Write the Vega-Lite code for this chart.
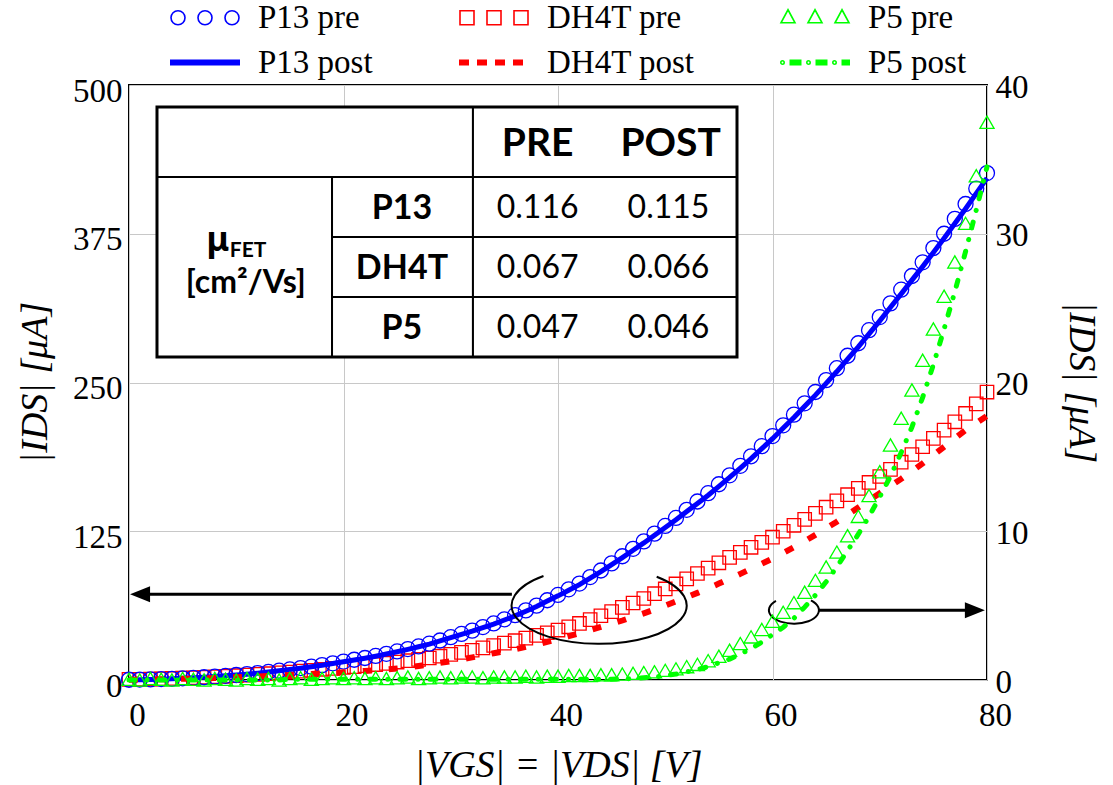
{
  "$schema": "https://vega.github.io/schema/vega-lite/v6.json",
  "width": 858,
  "height": 595,
  "autosize": "none",
  "padding": {"left": 129, "top": 85, "right": 126, "bottom": 105},
  "background": "white",
  "config": {
    "font": "Liberation Serif",
    "view": {"stroke": "#000000", "strokeWidth": 2},
    "style": {
      "guide-label": {"font": "Liberation Serif", "fontSize": 33, "fill": "#000000"},
      "guide-title": {"font": "Liberation Serif", "fontSize": 38, "fontWeight": "normal", "fill": "#000000"}
    },
    "axis": {
      "labelFont": "Liberation Serif", "labelFontSize": 33, "labelColor": "#000000",
      "titleFont": "Liberation Serif", "titleFontSize": 38, "titleFontWeight": "normal", "titleFontStyle": "italic", "titleColor": "#000000",
      "ticks": false, "domain": false, "gridColor": "#c8c8c8", "gridWidth": 1,
      "labelFlush": false, "labelOverlap": false
    }
  },
  "datasets": {
    "curves": [
      {"series":"P13 pre","V":0,"I":0.2},{"series":"P13 pre","V":1,"I":0.35},{"series":"P13 pre","V":2,"I":0.5},{"series":"P13 pre","V":3,"I":0.75},{"series":"P13 pre","V":4,"I":1.0},{"series":"P13 pre","V":5,"I":1.4},{"series":"P13 pre","V":6,"I":1.8},{"series":"P13 pre","V":7,"I":2.3},{"series":"P13 pre","V":8,"I":2.9},{"series":"P13 pre","V":9,"I":3.5},
      {"series":"P13 pre","V":10,"I":4.2},{"series":"P13 pre","V":11,"I":5.0},{"series":"P13 pre","V":12,"I":5.8},{"series":"P13 pre","V":13,"I":6.8},{"series":"P13 pre","V":14,"I":7.8},{"series":"P13 pre","V":15,"I":8.9},{"series":"P13 pre","V":16,"I":10.0},{"series":"P13 pre","V":17,"I":11.2},{"series":"P13 pre","V":18,"I":12.5},{"series":"P13 pre","V":19,"I":14.0},
      {"series":"P13 pre","V":20,"I":15.5},{"series":"P13 pre","V":21,"I":17.0},{"series":"P13 pre","V":22,"I":18.5},{"series":"P13 pre","V":23,"I":20.2},{"series":"P13 pre","V":24,"I":22.0},{"series":"P13 pre","V":25,"I":24.0},{"series":"P13 pre","V":26,"I":26.0},{"series":"P13 pre","V":27,"I":28.2},{"series":"P13 pre","V":28,"I":30.5},{"series":"P13 pre","V":29,"I":33.2},
      {"series":"P13 pre","V":30,"I":36.0},{"series":"P13 pre","V":31,"I":38.7},{"series":"P13 pre","V":32,"I":41.5},{"series":"P13 pre","V":33,"I":44.5},{"series":"P13 pre","V":34,"I":47.5},{"series":"P13 pre","V":35,"I":51.0},{"series":"P13 pre","V":36,"I":54.5},{"series":"P13 pre","V":37,"I":58.5},{"series":"P13 pre","V":38,"I":62.5},{"series":"P13 pre","V":39,"I":67.0},
      {"series":"P13 pre","V":40,"I":71.5},{"series":"P13 pre","V":41,"I":76.2},{"series":"P13 pre","V":42,"I":81.0},{"series":"P13 pre","V":43,"I":86.5},{"series":"P13 pre","V":44,"I":92.0},{"series":"P13 pre","V":45,"I":98.0},{"series":"P13 pre","V":46,"I":104.0},{"series":"P13 pre","V":47,"I":110.2},{"series":"P13 pre","V":48,"I":116.5},{"series":"P13 pre","V":49,"I":123.0},
      {"series":"P13 pre","V":50,"I":129.5},{"series":"P13 pre","V":51,"I":136.2},{"series":"P13 pre","V":52,"I":143.0},{"series":"P13 pre","V":53,"I":150.0},{"series":"P13 pre","V":54,"I":157.0},{"series":"P13 pre","V":55,"I":164.5},{"series":"P13 pre","V":56,"I":172.0},{"series":"P13 pre","V":57,"I":180.0},{"series":"P13 pre","V":58,"I":188.0},{"series":"P13 pre","V":59,"I":196.5},
      {"series":"P13 pre","V":60,"I":205.0},{"series":"P13 pre","V":61,"I":214.0},{"series":"P13 pre","V":62,"I":223.0},{"series":"P13 pre","V":63,"I":232.5},{"series":"P13 pre","V":64,"I":242.0},{"series":"P13 pre","V":65,"I":252.0},{"series":"P13 pre","V":66,"I":262.0},{"series":"P13 pre","V":67,"I":272.5},{"series":"P13 pre","V":68,"I":283.0},{"series":"P13 pre","V":69,"I":294.0},
      {"series":"P13 pre","V":70,"I":305.0},{"series":"P13 pre","V":71,"I":316.5},{"series":"P13 pre","V":72,"I":328.0},{"series":"P13 pre","V":73,"I":339.5},{"series":"P13 pre","V":74,"I":351.0},{"series":"P13 pre","V":75,"I":363.0},{"series":"P13 pre","V":76,"I":375.0},{"series":"P13 pre","V":77,"I":387.5},{"series":"P13 pre","V":78,"I":400.0},{"series":"P13 pre","V":79,"I":413.0},
      {"series":"P13 pre","V":80,"I":426.0},

      {"series":"P13 post","V":0,"I":0.2},{"series":"P13 post","V":1,"I":0.3},{"series":"P13 post","V":2,"I":0.5},{"series":"P13 post","V":3,"I":0.7},{"series":"P13 post","V":4,"I":1.0},{"series":"P13 post","V":5,"I":1.4},{"series":"P13 post","V":6,"I":1.8},{"series":"P13 post","V":7,"I":2.3},{"series":"P13 post","V":8,"I":2.9},{"series":"P13 post","V":9,"I":3.5},
      {"series":"P13 post","V":10,"I":4.2},{"series":"P13 post","V":11,"I":4.9},{"series":"P13 post","V":12,"I":5.7},{"series":"P13 post","V":13,"I":6.7},{"series":"P13 post","V":14,"I":7.7},{"series":"P13 post","V":15,"I":8.8},{"series":"P13 post","V":16,"I":9.9},{"series":"P13 post","V":17,"I":11.1},{"series":"P13 post","V":18,"I":12.4},{"series":"P13 post","V":19,"I":13.8},
      {"series":"P13 post","V":20,"I":15.3},{"series":"P13 post","V":21,"I":16.8},{"series":"P13 post","V":22,"I":18.3},{"series":"P13 post","V":23,"I":20.0},{"series":"P13 post","V":24,"I":21.8},{"series":"P13 post","V":25,"I":23.7},{"series":"P13 post","V":26,"I":25.7},{"series":"P13 post","V":27,"I":27.9},{"series":"P13 post","V":28,"I":30.2},{"series":"P13 post","V":29,"I":32.8},
      {"series":"P13 post","V":30,"I":35.6},{"series":"P13 post","V":31,"I":38.3},{"series":"P13 post","V":32,"I":41.0},{"series":"P13 post","V":33,"I":44.0},{"series":"P13 post","V":34,"I":47.0},{"series":"P13 post","V":35,"I":50.4},{"series":"P13 post","V":36,"I":53.9},{"series":"P13 post","V":37,"I":57.8},{"series":"P13 post","V":38,"I":61.8},{"series":"P13 post","V":39,"I":66.3},
      {"series":"P13 post","V":40,"I":70.7},{"series":"P13 post","V":41,"I":75.4},{"series":"P13 post","V":42,"I":80.1},{"series":"P13 post","V":43,"I":85.6},{"series":"P13 post","V":44,"I":91.0},{"series":"P13 post","V":45,"I":96.9},{"series":"P13 post","V":46,"I":102.9},{"series":"P13 post","V":47,"I":109.0},{"series":"P13 post","V":48,"I":115.2},{"series":"P13 post","V":49,"I":121.7},
      {"series":"P13 post","V":50,"I":128.1},{"series":"P13 post","V":51,"I":134.7},{"series":"P13 post","V":52,"I":141.5},{"series":"P13 post","V":53,"I":148.4},{"series":"P13 post","V":54,"I":155.3},{"series":"P13 post","V":55,"I":162.7},{"series":"P13 post","V":56,"I":170.2},{"series":"P13 post","V":57,"I":178.1},{"series":"P13 post","V":58,"I":186.0},{"series":"P13 post","V":59,"I":194.4},
      {"series":"P13 post","V":60,"I":202.8},{"series":"P13 post","V":61,"I":211.7},{"series":"P13 post","V":62,"I":220.6},{"series":"P13 post","V":63,"I":230.0},{"series":"P13 post","V":64,"I":239.4},{"series":"P13 post","V":65,"I":249.3},{"series":"P13 post","V":66,"I":259.2},{"series":"P13 post","V":67,"I":269.6},{"series":"P13 post","V":68,"I":280.0},{"series":"P13 post","V":69,"I":290.9},
      {"series":"P13 post","V":70,"I":301.8},{"series":"P13 post","V":71,"I":313.2},{"series":"P13 post","V":72,"I":324.5},{"series":"P13 post","V":73,"I":336.0},{"series":"P13 post","V":74,"I":347.4},{"series":"P13 post","V":75,"I":359.3},{"series":"P13 post","V":76,"I":371.2},{"series":"P13 post","V":77,"I":383.6},{"series":"P13 post","V":78,"I":396.0},{"series":"P13 post","V":79,"I":408.9},
      {"series":"P13 post","V":80,"I":421.7},

      {"series":"DH4T pre","V":0,"I":0.5},{"series":"DH4T pre","V":1,"I":0.6},{"series":"DH4T pre","V":2,"I":0.8},{"series":"DH4T pre","V":3,"I":1.0},{"series":"DH4T pre","V":4,"I":1.3},{"series":"DH4T pre","V":5,"I":1.6},{"series":"DH4T pre","V":6,"I":1.9},{"series":"DH4T pre","V":7,"I":2.3},{"series":"DH4T pre","V":8,"I":2.7},{"series":"DH4T pre","V":9,"I":3.1},
      {"series":"DH4T pre","V":10,"I":3.6},{"series":"DH4T pre","V":11,"I":4.1},{"series":"DH4T pre","V":12,"I":4.7},{"series":"DH4T pre","V":13,"I":5.3},{"series":"DH4T pre","V":14,"I":6.0},{"series":"DH4T pre","V":15,"I":6.7},{"series":"DH4T pre","V":16,"I":7.5},{"series":"DH4T pre","V":17,"I":8.2},{"series":"DH4T pre","V":18,"I":9.0},{"series":"DH4T pre","V":19,"I":9.7},
      {"series":"DH4T pre","V":20,"I":10.5},{"series":"DH4T pre","V":21,"I":11.2},{"series":"DH4T pre","V":22,"I":12.0},{"series":"DH4T pre","V":23,"I":13.0},{"series":"DH4T pre","V":24,"I":14.0},{"series":"DH4T pre","V":25,"I":15.1},{"series":"DH4T pre","V":26,"I":16.2},{"series":"DH4T pre","V":27,"I":17.3},{"series":"DH4T pre","V":28,"I":18.5},{"series":"DH4T pre","V":29,"I":20.0},
      {"series":"DH4T pre","V":30,"I":21.5},{"series":"DH4T pre","V":31,"I":23.2},{"series":"DH4T pre","V":32,"I":25.0},{"series":"DH4T pre","V":33,"I":27.0},{"series":"DH4T pre","V":34,"I":29.0},{"series":"DH4T pre","V":35,"I":31.0},{"series":"DH4T pre","V":36,"I":33.0},{"series":"DH4T pre","V":37,"I":35.2},{"series":"DH4T pre","V":38,"I":37.5},{"series":"DH4T pre","V":39,"I":39.7},
      {"series":"DH4T pre","V":40,"I":42.0},{"series":"DH4T pre","V":41,"I":44.7},{"series":"DH4T pre","V":42,"I":47.5},{"series":"DH4T pre","V":43,"I":50.7},{"series":"DH4T pre","V":44,"I":54.0},{"series":"DH4T pre","V":45,"I":57.5},{"series":"DH4T pre","V":46,"I":61.0},{"series":"DH4T pre","V":47,"I":64.7},{"series":"DH4T pre","V":48,"I":68.5},{"series":"DH4T pre","V":49,"I":72.5},
      {"series":"DH4T pre","V":50,"I":76.5},{"series":"DH4T pre","V":51,"I":80.7},{"series":"DH4T pre","V":52,"I":85.0},{"series":"DH4T pre","V":53,"I":89.5},{"series":"DH4T pre","V":54,"I":94.0},{"series":"DH4T pre","V":55,"I":98.5},{"series":"DH4T pre","V":56,"I":103.0},{"series":"DH4T pre","V":57,"I":107.2},{"series":"DH4T pre","V":58,"I":111.5},{"series":"DH4T pre","V":59,"I":115.7},
      {"series":"DH4T pre","V":60,"I":120.0},{"series":"DH4T pre","V":61,"I":125.0},{"series":"DH4T pre","V":62,"I":130.0},{"series":"DH4T pre","V":63,"I":135.0},{"series":"DH4T pre","V":64,"I":140.0},{"series":"DH4T pre","V":65,"I":145.2},{"series":"DH4T pre","V":66,"I":150.5},{"series":"DH4T pre","V":67,"I":155.7},{"series":"DH4T pre","V":68,"I":161.0},{"series":"DH4T pre","V":69,"I":166.0},
      {"series":"DH4T pre","V":70,"I":171.0},{"series":"DH4T pre","V":71,"I":177.0},{"series":"DH4T pre","V":72,"I":183.0},{"series":"DH4T pre","V":73,"I":189.5},{"series":"DH4T pre","V":74,"I":196.0},{"series":"DH4T pre","V":75,"I":203.0},{"series":"DH4T pre","V":76,"I":210.0},{"series":"DH4T pre","V":77,"I":217.0},{"series":"DH4T pre","V":78,"I":224.0},{"series":"DH4T pre","V":79,"I":232.0},
      {"series":"DH4T pre","V":80,"I":242.0},

      {"series":"DH4T post","V":0,"I":0.3},{"series":"DH4T post","V":1,"I":0.4},{"series":"DH4T post","V":2,"I":0.5},{"series":"DH4T post","V":3,"I":0.6},{"series":"DH4T post","V":4,"I":0.8},{"series":"DH4T post","V":5,"I":1.0},{"series":"DH4T post","V":6,"I":1.2},{"series":"DH4T post","V":7,"I":1.4},{"series":"DH4T post","V":8,"I":1.7},{"series":"DH4T post","V":9,"I":2.0},
      {"series":"DH4T post","V":10,"I":2.3},{"series":"DH4T post","V":11,"I":2.6},{"series":"DH4T post","V":12,"I":3.0},{"series":"DH4T post","V":13,"I":3.4},{"series":"DH4T post","V":14,"I":3.8},{"series":"DH4T post","V":15,"I":4.2},{"series":"DH4T post","V":16,"I":4.6},{"series":"DH4T post","V":17,"I":5.0},{"series":"DH4T post","V":18,"I":5.5},{"series":"DH4T post","V":19,"I":6.0},
      {"series":"DH4T post","V":20,"I":6.5},{"series":"DH4T post","V":21,"I":7.0},{"series":"DH4T post","V":22,"I":7.6},{"series":"DH4T post","V":23,"I":8.2},{"series":"DH4T post","V":24,"I":8.9},{"series":"DH4T post","V":25,"I":9.7},{"series":"DH4T post","V":26,"I":10.6},{"series":"DH4T post","V":27,"I":11.8},{"series":"DH4T post","V":28,"I":13.0},{"series":"DH4T post","V":29,"I":14.4},
      {"series":"DH4T post","V":30,"I":15.8},{"series":"DH4T post","V":31,"I":17.4},{"series":"DH4T post","V":32,"I":19.0},{"series":"DH4T post","V":33,"I":20.7},{"series":"DH4T post","V":34,"I":22.5},{"series":"DH4T post","V":35,"I":24.1},{"series":"DH4T post","V":36,"I":25.8},{"series":"DH4T post","V":37,"I":27.8},{"series":"DH4T post","V":38,"I":29.8},{"series":"DH4T post","V":39,"I":32.0},
      {"series":"DH4T post","V":40,"I":34.3},{"series":"DH4T post","V":41,"I":36.8},{"series":"DH4T post","V":42,"I":39.3},{"series":"DH4T post","V":43,"I":42.0},{"series":"DH4T post","V":44,"I":44.6},{"series":"DH4T post","V":45,"I":47.3},{"series":"DH4T post","V":46,"I":50.0},{"series":"DH4T post","V":47,"I":53.0},{"series":"DH4T post","V":48,"I":56.0},{"series":"DH4T post","V":49,"I":59.2},
      {"series":"DH4T post","V":50,"I":62.5},{"series":"DH4T post","V":51,"I":66.0},{"series":"DH4T post","V":52,"I":69.5},{"series":"DH4T post","V":53,"I":73.2},{"series":"DH4T post","V":54,"I":77.0},{"series":"DH4T post","V":55,"I":81.0},{"series":"DH4T post","V":56,"I":85.0},{"series":"DH4T post","V":57,"I":89.2},{"series":"DH4T post","V":58,"I":93.5},{"series":"DH4T post","V":59,"I":97.7},
      {"series":"DH4T post","V":60,"I":102.0},{"series":"DH4T post","V":61,"I":106.7},{"series":"DH4T post","V":62,"I":111.5},{"series":"DH4T post","V":63,"I":116.7},{"series":"DH4T post","V":64,"I":122.0},{"series":"DH4T post","V":65,"I":127.5},{"series":"DH4T post","V":66,"I":133.0},{"series":"DH4T post","V":67,"I":139.0},{"series":"DH4T post","V":68,"I":145.0},{"series":"DH4T post","V":69,"I":151.0},
      {"series":"DH4T post","V":70,"I":157.0},{"series":"DH4T post","V":71,"I":163.0},{"series":"DH4T post","V":72,"I":169.0},{"series":"DH4T post","V":73,"I":175.5},{"series":"DH4T post","V":74,"I":182.0},{"series":"DH4T post","V":75,"I":189.0},{"series":"DH4T post","V":76,"I":196.0},{"series":"DH4T post","V":77,"I":203.0},{"series":"DH4T post","V":78,"I":210.0},{"series":"DH4T post","V":79,"I":216.0},
      {"series":"DH4T post","V":80,"I":222.0},

      {"series":"P5 pre","V":0,"I":0.05},{"series":"P5 pre","V":1,"I":0.0},{"series":"P5 pre","V":2,"I":0.1},{"series":"P5 pre","V":3,"I":0.05},{"series":"P5 pre","V":4,"I":0.0},{"series":"P5 pre","V":5,"I":0.1},{"series":"P5 pre","V":6,"I":0.05},{"series":"P5 pre","V":7,"I":0.0},{"series":"P5 pre","V":8,"I":0.1},{"series":"P5 pre","V":9,"I":0.05},
      {"series":"P5 pre","V":10,"I":0.0},{"series":"P5 pre","V":11,"I":0.1},{"series":"P5 pre","V":12,"I":0.05},{"series":"P5 pre","V":13,"I":0.1},{"series":"P5 pre","V":14,"I":0.0},{"series":"P5 pre","V":15,"I":0.1},{"series":"P5 pre","V":16,"I":0.15},{"series":"P5 pre","V":17,"I":0.05},{"series":"P5 pre","V":18,"I":0.1},{"series":"P5 pre","V":19,"I":0.15},
      {"series":"P5 pre","V":20,"I":0.1},{"series":"P5 pre","V":21,"I":0.15},{"series":"P5 pre","V":22,"I":0.1},{"series":"P5 pre","V":23,"I":0.15},{"series":"P5 pre","V":24,"I":0.1},{"series":"P5 pre","V":25,"I":0.15},{"series":"P5 pre","V":26,"I":0.2},{"series":"P5 pre","V":27,"I":0.1},{"series":"P5 pre","V":28,"I":0.15},{"series":"P5 pre","V":29,"I":0.2},
      {"series":"P5 pre","V":30,"I":0.15},{"series":"P5 pre","V":31,"I":0.2},{"series":"P5 pre","V":32,"I":0.2},{"series":"P5 pre","V":33,"I":0.15},{"series":"P5 pre","V":34,"I":0.2},{"series":"P5 pre","V":35,"I":0.2},{"series":"P5 pre","V":36,"I":0.2},{"series":"P5 pre","V":37,"I":0.25},{"series":"P5 pre","V":38,"I":0.2},{"series":"P5 pre","V":39,"I":0.25},
      {"series":"P5 pre","V":40,"I":0.25},{"series":"P5 pre","V":41,"I":0.3},{"series":"P5 pre","V":42,"I":0.3},{"series":"P5 pre","V":43,"I":0.3},{"series":"P5 pre","V":44,"I":0.35},{"series":"P5 pre","V":45,"I":0.35},{"series":"P5 pre","V":46,"I":0.4},{"series":"P5 pre","V":47,"I":0.45},{"series":"P5 pre","V":48,"I":0.5},{"series":"P5 pre","V":49,"I":0.55},
      {"series":"P5 pre","V":50,"I":0.65},{"series":"P5 pre","V":51,"I":0.75},{"series":"P5 pre","V":52,"I":0.9},{"series":"P5 pre","V":53,"I":1.05},{"series":"P5 pre","V":54,"I":1.3},{"series":"P5 pre","V":55,"I":1.6},{"series":"P5 pre","V":56,"I":2.0},{"series":"P5 pre","V":57,"I":2.45},{"series":"P5 pre","V":58,"I":2.9},{"series":"P5 pre","V":59,"I":3.4},
      {"series":"P5 pre","V":60,"I":3.95},{"series":"P5 pre","V":61,"I":4.55},{"series":"P5 pre","V":62,"I":5.2},{"series":"P5 pre","V":63,"I":5.9},{"series":"P5 pre","V":64,"I":6.7},{"series":"P5 pre","V":65,"I":7.6},{"series":"P5 pre","V":66,"I":8.6},{"series":"P5 pre","V":67,"I":9.7},{"series":"P5 pre","V":68,"I":11.0},{"series":"P5 pre","V":69,"I":12.4},
      {"series":"P5 pre","V":70,"I":14.0},{"series":"P5 pre","V":71,"I":15.8},{"series":"P5 pre","V":72,"I":17.6},{"series":"P5 pre","V":73,"I":19.5},{"series":"P5 pre","V":74,"I":21.5},{"series":"P5 pre","V":75,"I":23.6},{"series":"P5 pre","V":76,"I":25.8},{"series":"P5 pre","V":77,"I":28.1},{"series":"P5 pre","V":78,"I":30.7},{"series":"P5 pre","V":79,"I":33.9},
      {"series":"P5 pre","V":80,"I":37.5},

      {"series":"P5 post","V":0,"I":0.0},{"series":"P5 post","V":1,"I":0.0},{"series":"P5 post","V":2,"I":0.0},{"series":"P5 post","V":3,"I":0.0},{"series":"P5 post","V":4,"I":0.0},{"series":"P5 post","V":5,"I":0.0},{"series":"P5 post","V":6,"I":0.0},{"series":"P5 post","V":7,"I":0.0},{"series":"P5 post","V":8,"I":0.0},{"series":"P5 post","V":9,"I":0.0},
      {"series":"P5 post","V":10,"I":0.0},{"series":"P5 post","V":11,"I":0.0},{"series":"P5 post","V":12,"I":0.0},{"series":"P5 post","V":13,"I":0.0},{"series":"P5 post","V":14,"I":0.0},{"series":"P5 post","V":15,"I":0.05},{"series":"P5 post","V":16,"I":0.05},{"series":"P5 post","V":17,"I":0.05},{"series":"P5 post","V":18,"I":0.05},{"series":"P5 post","V":19,"I":0.05},
      {"series":"P5 post","V":20,"I":0.05},{"series":"P5 post","V":21,"I":0.05},{"series":"P5 post","V":22,"I":0.05},{"series":"P5 post","V":23,"I":0.05},{"series":"P5 post","V":24,"I":0.05},{"series":"P5 post","V":25,"I":0.05},{"series":"P5 post","V":26,"I":0.05},{"series":"P5 post","V":27,"I":0.05},{"series":"P5 post","V":28,"I":0.05},{"series":"P5 post","V":29,"I":0.05},
      {"series":"P5 post","V":30,"I":0.05},{"series":"P5 post","V":31,"I":0.05},{"series":"P5 post","V":32,"I":0.05},{"series":"P5 post","V":33,"I":0.05},{"series":"P5 post","V":34,"I":0.05},{"series":"P5 post","V":35,"I":0.05},{"series":"P5 post","V":36,"I":0.05},{"series":"P5 post","V":37,"I":0.05},{"series":"P5 post","V":38,"I":0.05},{"series":"P5 post","V":39,"I":0.05},
      {"series":"P5 post","V":40,"I":0.05},{"series":"P5 post","V":41,"I":0.05},{"series":"P5 post","V":42,"I":0.05},{"series":"P5 post","V":43,"I":0.05},{"series":"P5 post","V":44,"I":0.05},{"series":"P5 post","V":45,"I":0.05},{"series":"P5 post","V":46,"I":0.07},{"series":"P5 post","V":47,"I":0.1},{"series":"P5 post","V":48,"I":0.15},{"series":"P5 post","V":49,"I":0.2},
      {"series":"P5 post","V":50,"I":0.3},{"series":"P5 post","V":51,"I":0.4},{"series":"P5 post","V":52,"I":0.55},{"series":"P5 post","V":53,"I":0.7},{"series":"P5 post","V":54,"I":0.9},{"series":"P5 post","V":55,"I":1.15},{"series":"P5 post","V":56,"I":1.4},{"series":"P5 post","V":57,"I":1.75},{"series":"P5 post","V":58,"I":2.1},{"series":"P5 post","V":59,"I":2.55},
      {"series":"P5 post","V":60,"I":3.05},{"series":"P5 post","V":61,"I":3.55},{"series":"P5 post","V":62,"I":4.15},{"series":"P5 post","V":63,"I":4.9},{"series":"P5 post","V":64,"I":5.7},{"series":"P5 post","V":65,"I":6.6},{"series":"P5 post","V":66,"I":7.6},{"series":"P5 post","V":67,"I":8.7},{"series":"P5 post","V":68,"I":9.8},{"series":"P5 post","V":69,"I":11.0},
      {"series":"P5 post","V":70,"I":12.3},{"series":"P5 post","V":71,"I":13.7},{"series":"P5 post","V":72,"I":15.3},{"series":"P5 post","V":73,"I":17.0},{"series":"P5 post","V":74,"I":19.0},{"series":"P5 post","V":75,"I":21.2},{"series":"P5 post","V":76,"I":23.6},{"series":"P5 post","V":77,"I":26.1},{"series":"P5 post","V":78,"I":28.8},{"series":"P5 post","V":79,"I":31.6},
      {"series":"P5 post","V":80,"I":34.5}
    ],
    "cells": [
      {"x1":2.61,"x2":32.07,"y1":422.7,"y2":481.5},
      {"x1":32.07,"x2":56.69,"y1":422.7,"y2":481.5},
      {"x1":2.61,"x2":18.93,"y1":271.4,"y2":422.7},
      {"x1":18.93,"x2":32.07,"y1":372.3,"y2":422.7},
      {"x1":18.93,"x2":32.07,"y1":321.8,"y2":372.3},
      {"x1":18.93,"x2":32.07,"y1":271.4,"y2":321.8},
      {"x1":32.07,"x2":56.69,"y1":372.3,"y2":422.7},
      {"x1":32.07,"x2":56.69,"y1":321.8,"y2":372.3},
      {"x1":32.07,"x2":56.69,"y1":271.4,"y2":321.8}
    ],
    "labels": [
      {"g":"hdr","t":"PRE","V":38.1,"I":450.5},
      {"g":"hdr","t":"POST","V":50.5,"I":450.5},
      {"g":"name","t":"P13","V":25.45,"I":396},
      {"g":"name","t":"DH4T","V":25.45,"I":345.6},
      {"g":"name","t":"P5","V":25.45,"I":295.1},
      {"g":"val","t":"0.116","V":38.1,"I":397},
      {"g":"val","t":"0.115","V":50.3,"I":397},
      {"g":"val","t":"0.067","V":38.1,"I":346.3},
      {"g":"val","t":"0.066","V":50.3,"I":346.3},
      {"g":"val","t":"0.047","V":38.1,"I":295.6},
      {"g":"val","t":"0.046","V":50.3,"I":295.6},
      {"g":"mu","t":"μ","V":8.3,"I":360.5},
      {"g":"sub","t":"FET","V":11.1,"I":355.2},
      {"g":"unit","t":"[cm²/Vs]","V":10.89,"I":324.8}
    ]
  },
  "layer": [
    {
      "layer": [
        {
          "data": {"name": "cells"},
          "mark": {"type": "rect", "fill": "white", "stroke": "black", "strokeWidth": 2},
          "encoding": {
            "x": {"field": "x1", "type": "quantitative", "scale": {"domain": [0, 80], "nice": false}},
            "x2": {"field": "x2"},
            "y": {"field": "y1", "type": "quantitative", "scale": {"domain": [0, 500], "nice": false}},
            "y2": {"field": "y2"}
          }
        },
        {
          "data": {"values": [{}]},
          "mark": {"type": "rect", "fillOpacity": 0, "stroke": "black", "strokeWidth": 3},
          "encoding": {
            "x": {"datum": 2.61, "type": "quantitative"},
            "x2": {"datum": 56.69},
            "y": {"datum": 271.4, "type": "quantitative"},
            "y2": {"datum": 481.5}
          }
        },
        {
          "data": {"name": "labels"},
          "transform": [{"filter": "datum.g === 'hdr'"}],
          "mark": {"type": "text", "font": "Lato", "fontWeight": "bold", "fontSize": 39, "baseline": "middle", "align": "center", "color": "black"},
          "encoding": {
            "x": {"field": "V", "type": "quantitative"},
            "y": {"field": "I", "type": "quantitative"},
            "text": {"field": "t"}
          }
        },
        {
          "data": {"name": "labels"},
          "transform": [{"filter": "datum.g === 'name'"}],
          "mark": {"type": "text", "font": "Lato", "fontWeight": "bold", "fontSize": 34, "baseline": "middle", "align": "center", "color": "black"},
          "encoding": {
            "x": {"field": "V", "type": "quantitative"},
            "y": {"field": "I", "type": "quantitative"},
            "text": {"field": "t"}
          }
        },
        {
          "data": {"name": "labels"},
          "transform": [{"filter": "datum.g === 'val'"}],
          "mark": {"type": "text", "font": "Lato", "fontSize": 32, "baseline": "middle", "align": "center", "color": "black"},
          "encoding": {
            "x": {"field": "V", "type": "quantitative"},
            "y": {"field": "I", "type": "quantitative"},
            "text": {"field": "t"}
          }
        },
        {
          "data": {"name": "labels"},
          "transform": [{"filter": "datum.g === 'mu'"}],
          "mark": {"type": "text", "font": "Noto Sans", "fontWeight": "bold", "fontSize": 34, "baseline": "alphabetic", "align": "center", "color": "black"},
          "encoding": {
            "x": {"field": "V", "type": "quantitative"},
            "y": {"field": "I", "type": "quantitative"},
            "text": {"field": "t"}
          }
        },
        {
          "data": {"name": "labels"},
          "transform": [{"filter": "datum.g === 'sub'"}],
          "mark": {"type": "text", "font": "Lato", "fontWeight": "bold", "fontSize": 21, "baseline": "alphabetic", "align": "center", "color": "black"},
          "encoding": {
            "x": {"field": "V", "type": "quantitative"},
            "y": {"field": "I", "type": "quantitative"},
            "text": {"field": "t"}
          }
        },
        {
          "data": {"name": "labels"},
          "transform": [{"filter": "datum.g === 'unit'"}],
          "mark": {"type": "text", "font": "Lato", "fontWeight": "bold", "fontSize": 32, "baseline": "alphabetic", "align": "center", "color": "black"},
          "encoding": {
            "x": {"field": "V", "type": "quantitative"},
            "y": {"field": "I", "type": "quantitative"},
            "text": {"field": "t"}
          }
        },
        {
          "data": {"name": "curves"},
          "transform": [{"filter": "datum.V === 0"}],
          "mark": {"type": "point", "filled": false, "strokeWidth": 1.6, "opacity": 0},
          "encoding": {
            "x": {"field": "V", "type": "quantitative"},
            "y": {"field": "I", "type": "quantitative"},
            "color": {
              "field": "series", "type": "nominal",
              "scale": {
                "domain": ["P13 pre", "DH4T pre", "P5 pre", "P13 post", "DH4T post", "P5 post"],
                "range": ["#0000ff", "#ff0000", "#00ff00", "#0000ff", "#ff0000", "#00ff00"]
              },
              "legend": {
                "orient": "none", "legendX": 41, "legendY": -84,
                "direction": "horizontal", "columns": 3, "columnPadding": 82, "rowPadding": 11,
                "symbolSize": 4, "symbolStrokeWidth": 1.6, "symbolOpacity": 1, "labelOffset": 55, "padding": 0,
                "labelFont": "Liberation Serif", "labelFontSize": 33, "labelColor": "black", "labelLimit": 400,
                "title": null
              }
            },
            "shape": {
              "field": "series", "type": "nominal",
              "scale": {
                "domain": ["P13 pre", "DH4T pre", "P5 pre", "P13 post", "DH4T post", "P5 post"],
                "range": [
                  "M-15.5,0A7,7 0 1,0 -1.5,0A7,7 0 1,0 -15.5,0M11.5,0A7,7 0 1,0 25.5,0A7,7 0 1,0 11.5,0M38.5,0A7,7 0 1,0 52.5,0A7,7 0 1,0 38.5,0",
                  "M-15.5,-7H-1.5V7H-15.5ZM11.5,-7H25.5V7H11.5ZM38.5,-7H52.5V7H38.5Z",
                  "M-8.5,-8L-1.5,5H-15.5ZM18.5,-8L25.5,5H11.5ZM45.5,-8L52.5,5H38.5Z",
                  "M-16.5,-2.25H53.5M-16.5,-0.75H53.5M-16.5,0.75H53.5M-16.5,2.25H53.5",
                  "M-16.5,-2.25H-6.5M-16.5,-0.75H-6.5M-16.5,0.75H-6.5M-16.5,2.25H-6.5M1.5,-2.25H11.5M1.5,-0.75H11.5M1.5,0.75H11.5M1.5,2.25H11.5M19.5,-2.25H29.5M19.5,-0.75H29.5M19.5,0.75H29.5M19.5,2.25H29.5M37.5,-2.25H47.5M37.5,-0.75H47.5M37.5,0.75H47.5M37.5,2.25H47.5",
                  "M-15.7,0A1.7,1.7 0 1,0 -12.3,0A1.7,1.7 0 1,0 -15.7,0M-7,-2.25H5M-7,-0.75H5M-7,0.75H5M-7,2.25H5M10.3,0A1.7,1.7 0 1,0 13.7,0A1.7,1.7 0 1,0 10.3,0M19,-2.25H31M19,-0.75H31M19,0.75H31M19,2.25H31M36.3,0A1.7,1.7 0 1,0 39.7,0A1.7,1.7 0 1,0 36.3,0M45,-2.25H53.5M45,-0.75H53.5M45,0.75H53.5M45,2.25H53.5"
                ]
              },
              "legend": {
                "orient": "none", "legendX": 41, "legendY": -84,
                "direction": "horizontal", "columns": 3, "columnPadding": 82, "rowPadding": 11,
                "symbolSize": 4, "symbolStrokeWidth": 1.6, "symbolOpacity": 1, "labelOffset": 55, "padding": 0,
                "labelFont": "Liberation Serif", "labelFontSize": 33, "labelColor": "black", "labelLimit": 400,
                "title": null
              }
            }
          }
        },
        {
          "data": {"name": "curves"},
          "transform": [{"filter": "datum.series === 'DH4T pre'"}],
          "mark": {"type": "point", "shape": "square", "size": 180, "filled": false, "stroke": "#ff0000", "strokeWidth": 1.3, "opacity": 1},
          "encoding": {
            "x": {"field": "V", "type": "quantitative"},
            "y": {"field": "I", "type": "quantitative"}
          }
        },
        {
          "data": {"name": "curves"},
          "transform": [{"filter": "datum.series === 'P13 pre'"}],
          "mark": {"type": "point", "shape": "circle", "size": 225, "filled": false, "stroke": "#0000ff", "strokeWidth": 1.3, "opacity": 1},
          "encoding": {
            "x": {
              "field": "V", "type": "quantitative",
              "scale": {"domain": [0, 80], "nice": false},
              "axis": {"values": [0, 20, 40, 60, 80], "grid": true, "labelFont": "Liberation Serif", "labelFontSize": 33, "labelColor": "black", "labelOffset": 8, "labelPadding": 19, "title": "|VGS| = |VDS| [V]", "titleFont": "Liberation Serif", "titleX": 429, "titleY": 85, "titleBaseline": "middle", "titleAlign": "center"}
            },
            "y": {
              "field": "I", "type": "quantitative",
              "scale": {"domain": [0, 500], "nice": false},
              "axis": {"values": [0, 125, 250, 375, 500], "grid": true, "labelFont": "Liberation Serif", "labelFontSize": 33, "labelColor": "black", "labelOffset": 6, "labelPadding": 7, "title": "|IDS| [μA]", "titleFont": "Liberation Serif", "titleX": -94, "titleY": 297, "titleAngle": -90, "titleBaseline": "middle", "titleAlign": "center"}
            }
          }
        },
        {
          "data": {"name": "curves"},
          "transform": [{"filter": "datum.series === 'P13 post'"}],
          "mark": {"type": "line", "color": "#0000ff", "strokeWidth": 5},
          "encoding": {
            "x": {"field": "V", "type": "quantitative"},
            "y": {"field": "I", "type": "quantitative"}
          }
        },
        {
          "data": {"name": "curves"},
          "transform": [{"filter": "datum.series === 'DH4T post'"}],
          "mark": {"type": "line", "color": "#ff0000", "strokeWidth": 6, "strokeDash": [9, 17]},
          "encoding": {
            "x": {"field": "V", "type": "quantitative"},
            "y": {"field": "I", "type": "quantitative"}
          }
        },
        {
          "data": {"values": [{}]},
          "mark": {"type": "point", "shape": "M-55.7,-30.7A87.5,38.3 0 1,0 57.5,-30", "size": 4, "filled": false, "stroke": "black", "strokeWidth": 2, "opacity": 1},
          "encoding": {
            "x": {"datum": 43.84, "type": "quantitative"},
            "y": {"datum": 61.6, "type": "quantitative"}
          }
        },
        {
          "data": {"values": [{}]},
          "mark": {"type": "point", "shape": "M-18,-9.4A25,13.5 0 1,0 17,-9.9", "size": 4, "filled": false, "stroke": "black", "strokeWidth": 2, "opacity": 1},
          "encoding": {
            "x": {"datum": 62.0, "type": "quantitative"},
            "y": {"datum": 58.6, "type": "quantitative"}
          }
        },
        {
          "data": {"values": [{}]},
          "mark": {"type": "rule", "strokeWidth": 3, "color": "black"},
          "encoding": {
            "x": {"datum": 1.5, "type": "quantitative"},
            "x2": {"datum": 35.7},
            "y": {"datum": 72, "type": "quantitative"}
          }
        },
        {
          "data": {"values": [{}]},
          "mark": {"type": "point", "shape": "M0,0L20,-8L20,8Z", "size": 4, "filled": true, "fill": "black", "strokeWidth": 0, "opacity": 1},
          "encoding": {
            "x": {"datum": 0.1, "type": "quantitative"},
            "y": {"datum": 72, "type": "quantitative"}
          }
        },
        {
          "data": {"values": [{}]},
          "mark": {"type": "rule", "strokeWidth": 3, "color": "black"},
          "encoding": {
            "x": {"datum": 64.3, "type": "quantitative"},
            "x2": {"datum": 78.2},
            "y": {"datum": 58.6, "type": "quantitative"}
          }
        },
        {
          "data": {"values": [{}]},
          "mark": {"type": "point", "shape": "M0,0L-20,-8L-20,8Z", "size": 4, "filled": true, "fill": "black", "strokeWidth": 0, "opacity": 1},
          "encoding": {
            "x": {"datum": 79.8, "type": "quantitative"},
            "y": {"datum": 58.6, "type": "quantitative"}
          }
        }
      ]
    },
    {
      "layer": [
        {
          "data": {"name": "curves"},
          "transform": [{"filter": "datum.series === 'P5 pre'"}],
          "mark": {"type": "point", "shape": "triangle-up", "size": 200, "filled": false, "stroke": "#00ff00", "strokeWidth": 1.3, "opacity": 1},
          "encoding": {
            "x": {"field": "V", "type": "quantitative", "scale": {"domain": [0, 80], "nice": false}},
            "y": {
              "field": "I", "type": "quantitative",
              "scale": {"domain": [0, 40], "nice": false},
              "axis": {"orient": "right", "values": [0, 10, 20, 30, 40], "grid": false, "labelFont": "Liberation Serif", "labelFontSize": 33, "labelColor": "black", "labelOffset": 2, "labelPadding": 8, "title": "|IDS| [μA]", "titleFont": "Liberation Serif", "titleX": 93, "titleY": 297, "titleAngle": 90, "titleBaseline": "middle", "titleAlign": "center"}
            }
          }
        },
        {
          "data": {"name": "curves"},
          "transform": [{"filter": "datum.series === 'P5 post'"}],
          "mark": {"type": "line", "color": "#00ff00", "strokeWidth": 5, "strokeDash": [6, 12, 0.1, 12], "strokeCap": "round"},
          "encoding": {
            "x": {"field": "V", "type": "quantitative"},
            "y": {"field": "I", "type": "quantitative"}
          }
        }
      ]
    }
  ],
  "resolve": {"scale": {"y": "independent"}}
}
